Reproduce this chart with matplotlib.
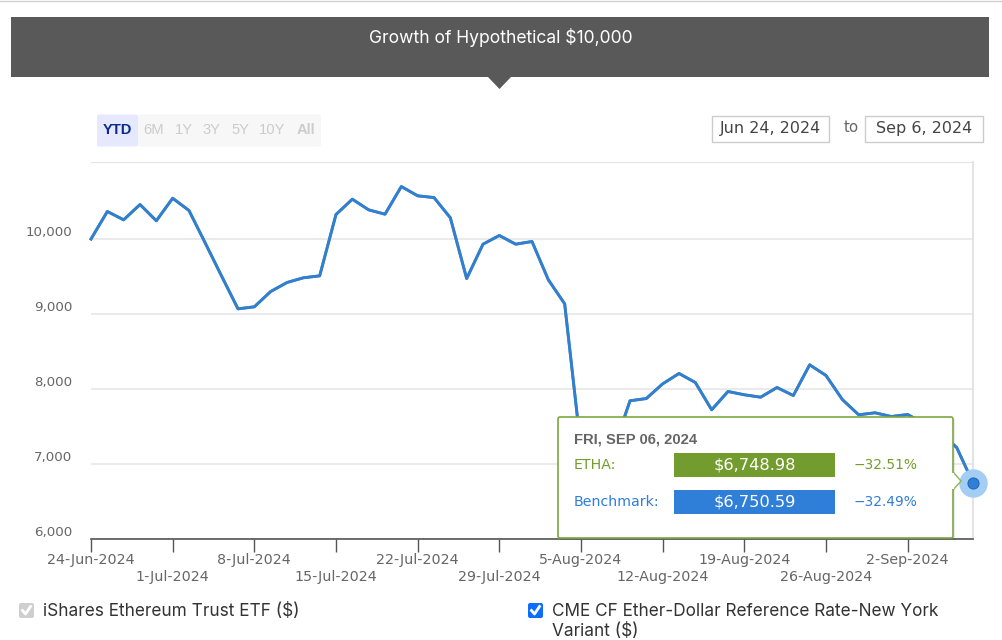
import matplotlib
matplotlib.use('Agg')
import matplotlib.pyplot as plt
from matplotlib.patches import Rectangle, Polygon, FancyBboxPatch
from matplotlib.transforms import ScaledTranslation

# one value per trading day, 24 Jun to 6 Sep 2024
benchmark = [10000, 10367, 10256, 10460, 10243, 10544, 10380, 9944, 9504, 9069,
             9096, 9300, 9420, 9483, 9509, 10327, 10531, 10389, 10331, 10700,
             10576, 10553, 10283, 9473, 9931, 10047, 9931, 9967, 9456, 9136,
             7197, 7073, 7207, 7843, 7873, 8069, 8207, 8087, 7723, 7967,
             7923, 7891, 8020, 7913, 8323, 8180, 7860, 7656, 7683, 7633,
             7660, 7540, 7420, 7220, 6750.59]
etha = benchmark[:-1] + [6748.98]

week_labels = ['24-Jun-2024', '1-Jul-2024', '8-Jul-2024', '15-Jul-2024',
               '22-Jul-2024', '29-Jul-2024', '5-Aug-2024', '12-Aug-2024',
               '19-Aug-2024', '26-Aug-2024', '2-Sep-2024']
y_ticks = [6000, 7000, 8000, 9000, 10000]
range_buttons = ['YTD', '6M', '1Y', '3Y', '5Y', '10Y', 'All']

W, H = 1003, 640
BLUE = '#2f7ed8'
GREEN = '#739c2e'
GREY_TEXT = '#666666'
UI_FONT = 'Inter'
CHART_FONT = 'DejaVu Sans'

fig = plt.figure(figsize=(W / 100, H / 100), dpi=100, facecolor='white')

# main chart
ax = fig.add_axes([91 / W, 1 - 539 / H, 882 / W, 377 / H], zorder=1)
ax.plot(range(len(etha)), etha, color=GREEN, lw=2, clip_on=False)
ax.plot(range(len(benchmark)), benchmark, color=BLUE, lw=2.1, clip_on=False)
ax.scatter([len(benchmark) - 1], [benchmark[-1]], s=420, color='#a3cdf3', clip_on=False, zorder=3, lw=0)
ax.scatter([len(benchmark) - 1], [benchmark[-1]], s=65, color=BLUE, edgecolor='#1c5fae', lw=0.6, clip_on=False, zorder=4)

ax.set_xlim(0, len(benchmark) - 1)
ax.set_ylim(6000, 11027)
ax.set_yticks(y_ticks)
ax.set_yticklabels([f'{v:,}' for v in y_ticks], fontsize=9.6, color=GREY_TEXT, family=CHART_FONT)
ax.set_xticks(range(0, len(benchmark), 5))
ax.set_xticklabels(week_labels, fontsize=10.3, color=GREY_TEXT, family=CHART_FONT)
ax.grid(axis='y', color='#e8e8e8', lw=1.3)
ax.set_axisbelow(True)
ax.tick_params(axis='y', length=0, pad=13.5)
ax.tick_params(axis='x', length=9.5, width=1, color='#555555')
for i, tick in enumerate(ax.xaxis.get_major_ticks()):
    tick.set_pad(0.5 if i % 2 == 0 else 12.5)
# y labels sit above their grid lines
shift = ScaledTranslation(0, 5.8 / 72, fig.dpi_scale_trans)
for label in ax.get_yticklabels():
    label.set_transform(label.get_transform() + shift)
ax.spines['left'].set_visible(False)
ax.spines['top'].set_color('#e4e4e4')
ax.spines['right'].set_color('#e0e0e0')
ax.spines['right'].set_linewidth(1.3)
ax.spines['bottom'].set_color('#555555')
ax.spines['bottom'].set_linewidth(1.2)

# page furniture, in pixel coordinates
ui = fig.add_axes([0, 0, 1, 1], zorder=2)
ui.set_xlim(0, W)
ui.set_ylim(H, 0)
ui.axis('off')
ui.patch.set_alpha(0)

ui.plot([0, W], [0.5, 0.5], color='#cfcfcf', lw=1)
ui.add_patch(Rectangle((11, 17), 978, 60, color='#595959', lw=0))
ui.add_patch(Polygon([(488, 77), (511, 77), (499.5, 89)], color='#595959', lw=0))
ui.text(501, 37.5, 'Growth of Hypothetical $10,000', color='white', fontsize=12.6,
        family=UI_FONT, ha='center', va='center')

# range selector
edges = [97, 138, 169, 198, 226, 254, 291, 321]
ui.add_patch(FancyBboxPatch((138, 114.5), 183, 32, boxstyle='round,pad=0,rounding_size=2', color='#f7f7f7', lw=0))
ui.add_patch(FancyBboxPatch((97, 114.5), 41, 32, boxstyle='round,pad=0,rounding_size=2', color='#e6e9fd', lw=0))
for i, name in enumerate(range_buttons):
    ui.text((edges[i] + edges[i + 1]) / 2, 130, name, fontsize=10.6, family='Liberation Sans',
            ha='center', va='center', color='#0b2a8a' if i == 0 else '#cccccc',
            fontweight='bold' if name in ('YTD', 'All') else 'normal')

# date boxes
for x0, x1, txt in [(712.5, 829.5, 'Jun 24, 2024'), (865.5, 983.5, 'Sep 6, 2024')]:
    ui.add_patch(Rectangle((x0, 115.5), x1 - x0, 26, fc='white', ec='#cccccc', lw=1))
    ui.text((x0 + x1) / 2, 128, txt, fontsize=11.5, family=CHART_FONT, color='#444444', ha='center', va='center')
ui.text(851, 128, 'to', fontsize=10.8, family=CHART_FONT, color=GREY_TEXT, ha='center', va='center')

# tooltip
ui.add_patch(Rectangle((560, 419), 395, 121, color='#000000', alpha=0.08, lw=0))
ui.add_patch(Polygon([(953, 472), (961, 481), (953, 490)], fc='white', ec='#8fb356', lw=1))
ui.add_patch(FancyBboxPatch((558, 417), 395, 121, boxstyle='round,pad=0,rounding_size=2',
                            fc='white', ec='#7fa63f', lw=1.2))
ui.add_patch(Rectangle((952, 473), 2.5, 16, color='white', lw=0))
ui.text(574, 439, 'FRI, SEP 06, 2024', fontsize=10.6, family='Liberation Sans', fontweight='bold',
        color=GREY_TEXT, ha='left', va='center')
rows = [(465, 'ETHA:', etha[-1], GREEN), (502, 'Benchmark:', benchmark[-1], BLUE)]
for y, name, value, colour in rows:
    ui.text(574, y, name, fontsize=10.2, family=CHART_FONT, color=colour, ha='left', va='center')
    ui.add_patch(Rectangle((674, y - 12), 161, 24, color=colour, lw=0))
    ui.text(754.5, y, f'${value:,.2f}', fontsize=11.7, family=CHART_FONT, color='white', ha='center', va='center')
    ui.text(854, y, f'\u2212{(1 - value / 10000) * 100:.2f}%', fontsize=9.9, family=CHART_FONT,
            color=colour, ha='left', va='center')

# legend check boxes
for x0, colour in [(19, '#cfcfcf'), (528, '#0d6efd')]:
    ui.add_patch(FancyBboxPatch((x0, 603), 15, 15, boxstyle='round,pad=0,rounding_size=2', color=colour, lw=0))
    ui.plot([x0 + 3.5, x0 + 6.5, x0 + 11.5], [610.5, 614, 606.5], color='white', lw=2)
ui.text(43, 611, 'iShares Ethereum Trust ETF ($)', fontsize=12.4, family=UI_FONT, color='#333333', ha='left', va='center')
ui.text(552, 611, 'CME CF Ether-Dollar Reference Rate-New York', fontsize=12.4, family=UI_FONT, color='#333333', ha='left', va='center')
ui.text(552, 631, 'Variant ($)', fontsize=12.4, family=UI_FONT, color='#333333', ha='left', va='center')

fig.savefig('out.png', dpi=100)
